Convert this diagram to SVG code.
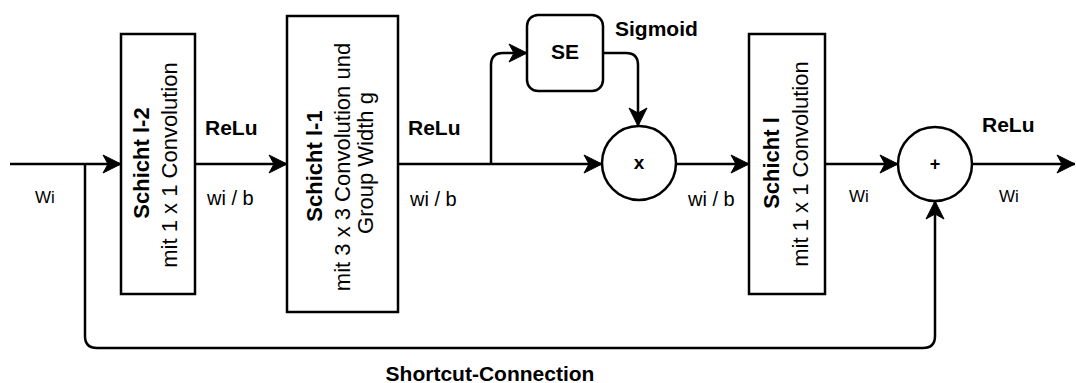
<svg xmlns="http://www.w3.org/2000/svg" width="1076" height="383" viewBox="0 0 1076 383">
<style>
.box{fill:#fff;stroke:#000;stroke-width:2.5}
.edge{fill:none;stroke:#000;stroke-width:2.5}
text{font-family:"Liberation Sans",Arial,Helvetica,sans-serif;fill:#000}
.b{font-weight:bold}
.lbl{font-size:20px}
.sm{font-size:17px}
.bl{font-size:21px;font-weight:bold}
.bx{font-size:22px}
</style>
<defs>
<marker id="arr" markerUnits="userSpaceOnUse" markerWidth="24" markerHeight="24" viewBox="-20 -12 24 24" refX="0" refY="0" orient="auto">
<path d="M0,0 L-18,-9 L-13,0 L-18,9 Z" fill="#000" stroke="#000" stroke-width="1"/>
</marker>
</defs>
<rect width="1076" height="383" fill="#fff"/>
<g id="connectors">
<path class="edge" d="M10,164 H121" marker-end="url(#arr)"/>
<path class="edge" d="M195,164 H287" marker-end="url(#arr)"/>
<path class="edge" d="M398,164 H602" marker-end="url(#arr)"/>
<path class="edge" d="M491,164 V65 Q491,53 503,53 H527" marker-end="url(#arr)"/>
<path class="edge" d="M603,53 H626 Q638,53 638,65 V126" marker-end="url(#arr)"/>
<path class="edge" d="M676,164 H749" marker-end="url(#arr)"/>
<path class="edge" d="M825,164 H898" marker-end="url(#arr)"/>
<path class="edge" d="M972,164 H1075" marker-end="url(#arr)"/>
<path class="edge" d="M85,164 V336 Q85,348 97,348 H923 Q935,348 935,336 V201" marker-end="url(#arr)"/>
</g>
<g id="schicht-l-2">
<rect class="box" x="121" y="34" width="74" height="260"/>
<text class="bx b" transform="translate(149,163) rotate(-90)" text-anchor="middle">Schicht l-2</text>
<text class="bx" transform="translate(177,165) rotate(-90)" text-anchor="middle">mit 1 x 1 Convolution</text>
</g>
<g id="schicht-l-1">
<rect class="box" x="287" y="16" width="111" height="296"/>
<text class="bx b" transform="translate(322,166) rotate(-90)" text-anchor="middle">Schicht l-1</text>
<text class="bx" transform="translate(350,167) rotate(-90)" text-anchor="middle">mit 3 x 3 Convolution und</text>
<text class="bx" transform="translate(373,163) rotate(-90)" text-anchor="middle">Group Width g</text>
</g>
<g id="se">
<rect class="box" x="527" y="15" width="76" height="76" rx="11" ry="11"/>
<text class="bl" x="565" y="59" text-anchor="middle">SE</text>
</g>
<g id="mult">
<circle class="box" cx="639" cy="163" r="37"/>
<text class="b" x="639" y="169" font-size="19" text-anchor="middle">x</text>
</g>
<g id="schicht-l">
<rect class="box" x="749" y="34" width="76" height="260"/>
<text class="bx b" transform="translate(779,163) rotate(-90)" text-anchor="middle">Schicht l</text>
<text class="bx" transform="translate(808,164) rotate(-90)" text-anchor="middle">mit 1 x 1 Convolution</text>
</g>
<g id="add">
<circle class="box" cx="935" cy="164" r="37"/>
<text class="b" x="935" y="170" font-size="18" text-anchor="middle">+</text>
</g>
<g id="labels">
<text class="sm" x="35" y="203">Wi</text>
<text class="bl" x="205" y="135">ReLu</text>
<text class="lbl" x="207" y="205">wi / b</text>
<text class="bl" x="408" y="135">ReLu</text>
<text class="lbl" x="410" y="206">wi / b</text>
<text class="bl" x="615" y="36">Sigmoid</text>
<text class="lbl" x="688" y="206">wi / b</text>
<text class="sm" x="849" y="202">Wi</text>
<text class="bl" x="982" y="132">ReLu</text>
<text class="sm" x="999" y="202">Wi</text>
<text class="bl" x="490" y="381" text-anchor="middle">Shortcut-Connection</text>
</g>
</svg>
